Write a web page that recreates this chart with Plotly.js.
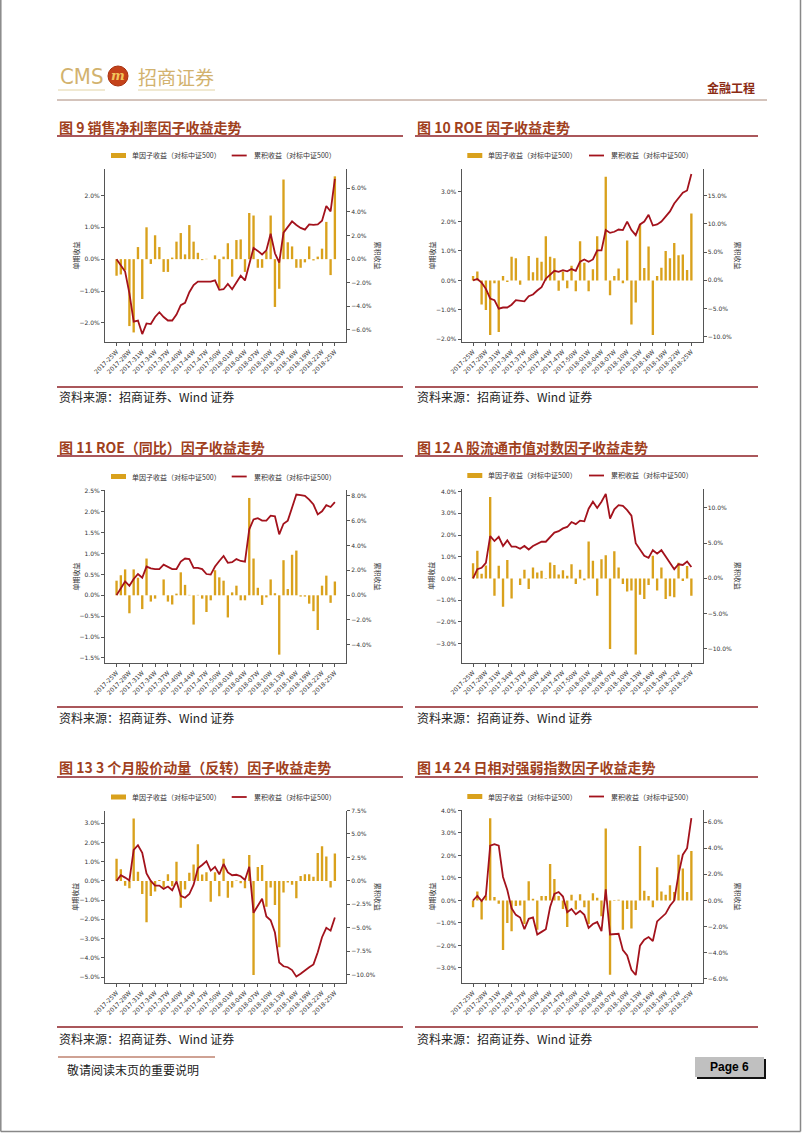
<!DOCTYPE html>
<html>
<head>
<meta charset="utf-8">
<script src="https://cdn.plot.ly/plotly-3.0.1.min.js"></script>
<style>
html,body{margin:0;padding:0;background:#fff;}
#page{width:802px;height:1133px;}
</style>
</head>
<body>
<div id="page"></div>
<script>
// ---------------- DATA ----------------
const categories = [
 '2017-25W','2017-26W','2017-27W','2017-28W','2017-29W','2017-30W','2017-31W','2017-32W','2017-33W','2017-34W',
 '2017-35W','2017-36W','2017-37W','2017-38W','2017-39W','2017-40W','2017-42W','2017-43W','2017-44W','2017-45W',
 '2017-46W','2017-47W','2017-48W','2017-49W','2017-50W','2017-51W','2017-52W','2018-01W','2018-02W','2018-03W',
 '2018-04W','2018-05W','2018-06W','2018-07W','2018-08W','2018-09W','2018-10W','2018-11W','2018-12W','2018-13W',
 '2018-14W','2018-15W','2018-16W','2018-17W','2018-18W','2018-19W','2018-20W','2018-21W','2018-22W','2018-23W',
 '2018-24W','2018-25W'
];
const tickLabels = ['2017-25W','2017-28W','2017-31W','2017-34W','2017-37W','2017-40W','2017-44W','2017-47W','2017-50W',
 '2018-01W','2018-04W','2018-07W','2018-10W','2018-13W','2018-16W','2018-19W','2018-22W','2018-25W'];

const barName = '单因子收益（对标中证500）';
const lineName = '累积收益（对标中证500）';

// 图9 销售净利率
const bar9 = [-0.52,-0.48,-0.35,-2.1,-2.3,0.38,-1.25,1.0,-0.15,0.75,0.38,-0.4,-0.4,0.05,0.55,0.82,0.15,1.07,0.55,0.2,
 -0.03,0.01,0.0,0.12,-0.9,0.08,0.5,-0.55,0.6,0.62,-0.4,1.45,1.37,-0.27,-0.27,0.25,1.37,-1.5,-0.93,2.5,
 0.53,0.4,-0.27,-0.27,-0.1,0.4,-0.04,0.08,0.33,1.17,-0.5,2.6];
const cum9 = [0,-0.5,-1.05,-2.9,-5.3,-5.2,-6.35,-5.45,-5.5,-4.9,-4.5,-4.9,-5.2,-5.2,-4.7,-3.9,-3.7,-2.8,-2.2,-1.9,
 -1.9,-1.9,-1.9,-1.8,-2.6,-2.55,-2.1,-2.55,-2.0,-1.4,-1.8,-0.3,0.95,0.7,0.4,0.75,2.15,0.5,-0.3,2.25,
 2.7,3.2,2.9,2.65,2.5,2.95,2.9,2.95,3.25,4.5,4.05,6.8];

// 图10 ROE
const bar10 = [0.15,0.3,-0.82,-1.0,-1.85,-0.1,-1.75,0.15,-0.05,0.8,0.75,-0.15,0.0,0.83,0.28,0.77,0.63,1.5,0.8,0.75,
 -0.35,0.3,-0.27,0.5,-0.37,1.33,0.6,-0.37,0.38,1.5,0.0,3.52,-0.5,0.15,0.4,-0.1,1.35,-1.5,-0.75,1.9,
 0.42,1.15,-1.85,0.15,0.43,1.0,0.75,1.27,0.85,0.88,0.35,2.27];
const cum10 = [0,0.25,-0.4,-1.5,-3.2,-3.5,-5.0,-4.8,-4.8,-4.3,-3.5,-3.6,-3.7,-2.8,-2.5,-1.8,-1.2,0.3,1.0,1.7,
 1.5,1.8,1.6,2.0,1.7,3.3,3.7,3.3,3.7,5.3,5.3,8.9,8.4,8.6,9.0,8.9,10.4,8.9,8.0,9.9,
 10.4,11.6,9.7,9.9,10.4,11.4,12.2,13.6,14.6,15.5,15.9,18.8];

// 图11 ROE（同比）
const bar11 = [0.35,0.48,0.62,-0.43,0.62,0.42,-0.33,0.88,-0.15,-0.08,0.0,0.38,-0.15,-0.22,0.04,0.55,0.25,0.01,-0.7,0.01,
 -0.08,-0.4,-0.12,0.6,0.43,0.35,-0.53,0.07,0.23,-0.12,-0.12,2.33,0.88,0.18,-0.23,-0.05,0.38,0.05,-1.42,0.84,
 0.15,0.97,1.07,-0.03,-0.03,-0.2,-0.38,-0.83,0.23,0.47,-0.18,0.33];
const cum11 = [0,0.5,1.1,0.75,1.3,1.7,1.4,2.3,2.15,2.1,2.1,2.45,2.3,2.1,2.1,2.7,2.95,2.9,2.2,2.2,
 2.1,1.7,1.65,2.3,2.75,3.15,2.6,2.65,2.9,2.75,2.7,5.3,6.1,6.2,6.0,6.0,6.4,6.35,4.9,5.75,
 6.0,7.0,8.1,8.05,8.0,7.7,7.3,6.5,6.75,7.25,7.1,7.5];

// 图12 A股流通市值对数
const bar12 = [0.7,1.28,0.22,0.6,3.75,-0.8,0.58,-1.3,0.85,-0.92,0.0,-0.3,0.4,-0.48,0.5,0.27,0.35,-0.02,0.74,0.62,
 0.18,0.38,0.12,0.65,-0.25,0.4,-0.08,1.7,0.82,-0.8,0.88,1.07,-3.25,1.25,0.5,-0.25,-0.6,-0.55,-3.5,-0.75,
 -0.95,-0.3,1.05,-0.55,0.5,-0.95,-0.82,-0.87,0.72,-0.12,0.57,-0.8];
const cum12 = [0,1.3,1.5,2.2,6.0,5.3,5.9,4.6,5.4,4.5,4.5,4.2,4.6,4.1,4.6,4.9,5.2,5.2,5.9,6.5,
 6.7,7.1,7.3,8.0,7.7,8.2,8.1,9.9,10.9,10.0,10.9,12.0,8.5,9.8,10.4,10.3,9.7,8.9,5.0,4.1,
 3.2,2.9,4.0,3.5,4.0,3.1,2.2,1.3,2.0,1.9,2.4,1.6];

// 图13 3个月股价动量（反转）
const bar13 = [1.15,0.6,-0.25,-0.38,3.25,0.47,-0.68,-2.15,-0.78,-0.55,0.05,-0.35,0.35,-0.28,1.0,-1.4,-0.45,0.42,0.85,1.9,
 0.33,0.45,-1.08,0.45,-0.8,1.15,-0.88,-0.35,0.02,-0.12,-0.38,1.35,-4.9,0.72,0.83,-1.35,-0.35,-1.25,-3.45,-0.6,
 -0.08,-0.2,-0.9,0.25,0.35,0.35,0.22,1.45,1.8,1.27,-0.35,1.43];
const cum13 = [0,0.6,0.35,0.05,3.3,3.8,3.0,0.8,0.0,-0.5,-0.5,-0.85,-0.6,-1.0,-0.05,-1.6,-1.8,-1.4,-0.4,1.35,
 1.7,2.1,1.1,1.5,0.7,1.8,0.9,0.6,0.65,0.5,0.1,1.5,-3.4,-2.7,-1.9,-3.8,-4.2,-5.5,-8.7,-9.1,
 -9.2,-9.5,-10.2,-9.9,-9.5,-9.2,-8.9,-7.6,-6.0,-5.0,-5.3,-3.9];

// 图14 24日相对强弱指数
const bar14 = [-0.3,0.4,-0.85,0.2,3.65,0.15,-0.15,-2.2,-1.0,-1.37,-0.25,-0.22,-1.05,0.85,0.08,-1.3,0.2,0.2,1.62,0.95,
 0.2,-0.38,-1.18,0.25,-0.4,0.27,-0.3,-1.05,0.32,0.12,-0.7,3.2,-3.3,0.02,0.03,-1.3,-0.38,-1.25,-0.42,2.42,
 0.43,0.2,-0.3,1.47,0.4,0.25,0.67,0.38,2.03,1.42,0.38,2.2];
const cum14 = [0,0.35,-0.05,0.4,4.2,4.3,4.2,1.8,0.8,-0.6,-1.1,-1.3,-2.2,-1.4,-1.3,-2.6,-2.4,-2.2,-0.5,0.5,
 0.65,0.3,-0.9,-0.65,-1.05,-0.8,-1.1,-2.1,-1.8,-1.65,-2.35,0.85,-2.6,-2.6,-2.55,-3.8,-4.2,-5.3,-5.7,-3.45,
 -3.0,-2.8,-3.1,-1.6,-1.3,-1.0,-0.4,0.0,2.0,3.5,4.0,6.3];

const chartTitles = ['图 9 销售净利率因子收益走势','图 10 ROE 因子收益走势','图 11 ROE（同比）因子收益走势',
 '图 12 A 股流通市值对数因子收益走势','图 13 3 个月股价动量（反转）因子收益走势','图 14 24 日相对强弱指数因子收益走势'];
const sourceText = '资料来源：招商证券、Wind 证券';

// ---------------- LAYOUT ----------------
const W = 802, H = 1133;
const px = x => x / W;
const py = y => 1 - y / H;

const BAR_COLOR = '#D9A11C';
const LINE_COLOR = '#A3121C';
const AXIS_COLOR = '#555555';
const TICK_FONT = {family: 'DejaVu Sans, Arial, sans-serif', size: 6, color: '#333'};
const CJK = 'Noto Sans CJK SC, sans-serif';

const charts = [
 {bar: bar9,  cum: cum9,  rect: [105, 346, 169, 342],   left: [-2.6, 2.83],  ldt: 1,   right: [-7.02, 7.64], rdt: 2},
 {bar: bar10, cum: cum10, rect: [461.5, 702.5, 169, 342], left: [-2.09, 3.78], ldt: 1,  right: [-10.9, 19.7], rdt: 5},
 {bar: bar11, cum: cum11, rect: [105, 346, 490, 663],   left: [-1.62, 2.52], ldt: 0.5, right: [-5.47, 8.47], rdt: 2},
 {bar: bar12, cum: cum12, rect: [461.5, 702.5, 489, 662.7], left: [-3.88, 4.12], ldt: 1, right: [-12.0, 12.7], rdt: 5},
 {bar: bar13, cum: cum13, rect: [105, 346, 810.5, 983], left: [-5.31, 3.66], ldt: 1,   right: [-10.88, 7.5], rdt: 2.5},
 {bar: bar14, cum: cum14, rect: [461.5, 702.5, 810, 983], left: [-3.67, 4.02], ldt: 1,  right: [-6.31, 6.92], rdt: 2}
];

const data = [];
const layout = {
  width: W, height: H,
  margin: {l: 0, r: 0, t: 0, b: 0},
  paper_bgcolor: '#fff', plot_bgcolor: 'rgba(0,0,0,0)',
  showlegend: false,
  bargap: 0.45,
  shapes: [], annotations: []
};

charts.forEach((c, i) => {
  const xid = i === 0 ? 'x' : 'x' + (i + 1);
  const ylN = 2 * i + 1, yrN = 2 * i + 2;
  const ylid = ylN === 1 ? 'y' : 'y' + ylN;
  const yrid = 'y' + yrN;
  const [L, R, T, B] = c.rect;

  data.push({type: 'bar', x: categories, y: c.bar, xaxis: xid, yaxis: ylid,
    marker: {color: BAR_COLOR}, width: 0.55, hoverinfo: 'skip', name: barName});
  data.push({type: 'scatter', mode: 'lines', x: categories, y: c.cum, xaxis: xid, yaxis: yrid,
    line: {color: LINE_COLOR, width: 1.8}, hoverinfo: 'skip', name: lineName});

  layout['xaxis' + (i === 0 ? '' : i + 1)] = {
    type: 'category', domain: [px(L), px(R)], anchor: ylid,
    range: [-2.7, 53.6], tickmode: 'array', tickvals: tickLabels, ticktext: tickLabels,
    tickangle: -45, tickfont: TICK_FONT, showline: true, linecolor: AXIS_COLOR, linewidth: 1,
    ticks: 'outside', ticklen: 3, tickcolor: AXIS_COLOR, showgrid: false, zeroline: false, fixedrange: true
  };
  layout['yaxis' + (ylN === 1 ? '' : ylN)] = {
    domain: [py(B), py(T)], anchor: xid, range: c.left, dtick: c.ldt, tick0: 0,
    tickformat: '.1f', ticksuffix: '%', tickfont: TICK_FONT, showline: true, linecolor: AXIS_COLOR,
    linewidth: 1, ticks: 'outside', ticklen: 3, tickcolor: AXIS_COLOR, showgrid: false, zeroline: false, fixedrange: true
  };
  layout['yaxis' + yrN] = {
    overlaying: ylid, side: 'right', anchor: xid, range: c.right, dtick: c.rdt, tick0: 0,
    tickformat: '.1f', ticksuffix: '%', tickfont: TICK_FONT, showline: true, linecolor: AXIS_COLOR,
    linewidth: 1, ticks: 'outside', ticklen: 3, tickcolor: AXIS_COLOR, showgrid: false, zeroline: false, fixedrange: true
  };

  // legend (manual)
  const isLeft = i % 2 === 0;
  const ly = T - 13.5;
  const bx0 = isLeft ? 111 : 467.3;
  const lx0 = isLeft ? 231.7 : 589;
  layout.shapes.push({type: 'rect', xref: 'paper', yref: 'paper', x0: px(bx0), x1: px(bx0 + 15),
    y0: py(ly + 2.5), y1: py(ly - 2.5), fillcolor: BAR_COLOR, line: {width: 0}});
  layout.shapes.push({type: 'line', xref: 'paper', yref: 'paper', x0: px(lx0), x1: px(lx0 + 15),
    y0: py(ly), y1: py(ly), line: {color: LINE_COLOR, width: 1.8}});
  layout.annotations.push({xref: 'paper', yref: 'paper', x: px(bx0 + 19), y: py(ly), xanchor: 'left', yanchor: 'middle',
    text: barName, showarrow: false, font: {family: CJK, size: 7, color: '#333'}});
  layout.annotations.push({xref: 'paper', yref: 'paper', x: px(lx0 + 20), y: py(ly), xanchor: 'left', yanchor: 'middle',
    text: lineName, showarrow: false, font: {family: CJK, size: 7, color: '#333'}});

  // axis titles
  const midY = (T + B) / 2;
  layout.annotations.push({xref: 'paper', yref: 'paper', x: px(isLeft ? 75 : 431), y: py(midY),
    xanchor: 'center', yanchor: 'middle', textangle: -90, text: '单期收益', showarrow: false,
    font: {family: CJK, size: 7, color: '#333'}});
  layout.annotations.push({xref: 'paper', yref: 'paper', x: px(isLeft ? 378 : 738), y: py(midY),
    xanchor: 'center', yanchor: 'middle', textangle: 90, text: '累积收益', showarrow: false,
    font: {family: CJK, size: 7, color: '#333'}});
});

// titles, underlines, source lines
const rows = [{t: 127, u: 136, s: 387, st: 397}, {t: 447, u: 456, s: 707, st: 717}, {t: 767, u: 777, s: 1027, st: 1038}];
rows.forEach((r, ri) => {
  [[57, 403], [415, 758]].forEach((seg, si) => {
    const idx = ri * 2 + si;
    layout.annotations.push({xref: 'paper', yref: 'paper', x: px(seg[0]), y: py(r.t), xanchor: 'left', yanchor: 'middle',
      text: '<b>' + chartTitles[idx] + '</b>', showarrow: false, font: {family: CJK, size: 14, color: '#A0401C'}});
    layout.shapes.push({type: 'line', xref: 'paper', yref: 'paper', x0: px(seg[0]), x1: px(seg[1]),
      y0: py(r.u), y1: py(r.u), line: {color: '#8E1F24', width: 1.5}});
    layout.shapes.push({type: 'line', xref: 'paper', yref: 'paper', x0: px(seg[0]), x1: px(seg[1]),
      y0: py(r.s), y1: py(r.s), line: {color: '#8E1F24', width: 1.5}});
    layout.annotations.push({xref: 'paper', yref: 'paper', x: px(seg[0]), y: py(r.st), xanchor: 'left', yanchor: 'middle',
      text: sourceText, showarrow: false, font: {family: CJK, size: 12, color: '#222'}});
  });
});

// header
layout.annotations.push({xref: 'paper', yref: 'paper', x: px(58), y: py(77), xanchor: 'left', yanchor: 'middle',
  text: 'CMS', showarrow: false, font: {family: 'DejaVu Sans Condensed, Liberation Sans Narrow, sans-serif', size: 22, color: '#D2B26E'}});
layout.shapes.push({type: 'circle', xref: 'paper', yref: 'paper', x0: px(108), x1: px(128), y0: py(86), y1: py(66),
  fillcolor: '#C4421A', line: {color: '#A8300F', width: 1}});
layout.annotations.push({xref: 'paper', yref: 'paper', x: px(118), y: py(76), xanchor: 'center', yanchor: 'middle',
  text: '<b><i>m</i></b>', showarrow: false, font: {family: 'DejaVu Serif, serif', size: 13, color: '#F2C65A'}});
layout.annotations.push({xref: 'paper', yref: 'paper', x: px(136), y: py(77), xanchor: 'left', yanchor: 'middle',
  text: '招商证券', showarrow: false, font: {family: CJK, size: 19, color: '#D2B26E'}});
layout.shapes.push({type: 'line', xref: 'paper', yref: 'paper', x0: px(58), x1: px(105), y0: py(90), y1: py(90),
  line: {color: '#E2D3A4', width: 1}});
layout.shapes.push({type: 'line', xref: 'paper', yref: 'paper', x0: px(138), x1: px(215), y0: py(90), y1: py(90),
  line: {color: '#E2D3A4', width: 1}});
layout.annotations.push({xref: 'paper', yref: 'paper', x: px(757), y: py(88), xanchor: 'right', yanchor: 'middle',
  text: '<b>金融工程</b>', showarrow: false, font: {family: CJK, size: 12, color: '#8B2A12'}});
layout.shapes.push({type: 'line', xref: 'paper', yref: 'paper', x0: px(57), x1: px(767), y0: py(100), y1: py(100),
  line: {color: '#A98878', width: 1}});

// footer
layout.shapes.push({type: 'line', xref: 'paper', yref: 'paper', x0: px(58), x1: px(215), y0: py(1057), y1: py(1057),
  line: {color: '#A0462A', width: 1.2}});
layout.annotations.push({xref: 'paper', yref: 'paper', x: px(65), y: py(1069), xanchor: 'left', yanchor: 'middle',
  text: '敬请阅读末页的重要说明', showarrow: false, font: {family: CJK, size: 12, color: '#222'}});
layout.shapes.push({type: 'rect', xref: 'paper', yref: 'paper', x0: px(697), x1: px(766), y0: py(1079), y1: py(1059),
  fillcolor: '#111', line: {width: 0}});
layout.shapes.push({type: 'rect', xref: 'paper', yref: 'paper', x0: px(695), x1: px(764), y0: py(1077), y1: py(1057),
  fillcolor: '#C0C0C0', line: {width: 0}});
layout.annotations.push({xref: 'paper', yref: 'paper', x: px(729.5), y: py(1067), xanchor: 'center', yanchor: 'middle',
  text: '<b>Page 6</b>', showarrow: false, font: {family: 'Liberation Sans, Arial, sans-serif', size: 12, color: '#000'}});

// page border
layout.shapes.push({type: 'line', xref: 'paper', yref: 'paper', x0: px(0.8), x1: px(0.8), y0: py(0), y1: py(1131.5),
  line: {color: '#888', width: 1.5}});
layout.shapes.push({type: 'line', xref: 'paper', yref: 'paper', x0: px(800.5), x1: px(800.5), y0: py(0), y1: py(1131.5),
  line: {color: '#888', width: 1.5}});
layout.shapes.push({type: 'line', xref: 'paper', yref: 'paper', x0: px(0.8), x1: px(800.5), y0: py(1131.5), y1: py(1131.5),
  line: {color: '#888', width: 1.5}});

Plotly.newPlot('page', data, layout, {staticPlot: true, displayModeBar: false});
</script>
</body>
</html>
